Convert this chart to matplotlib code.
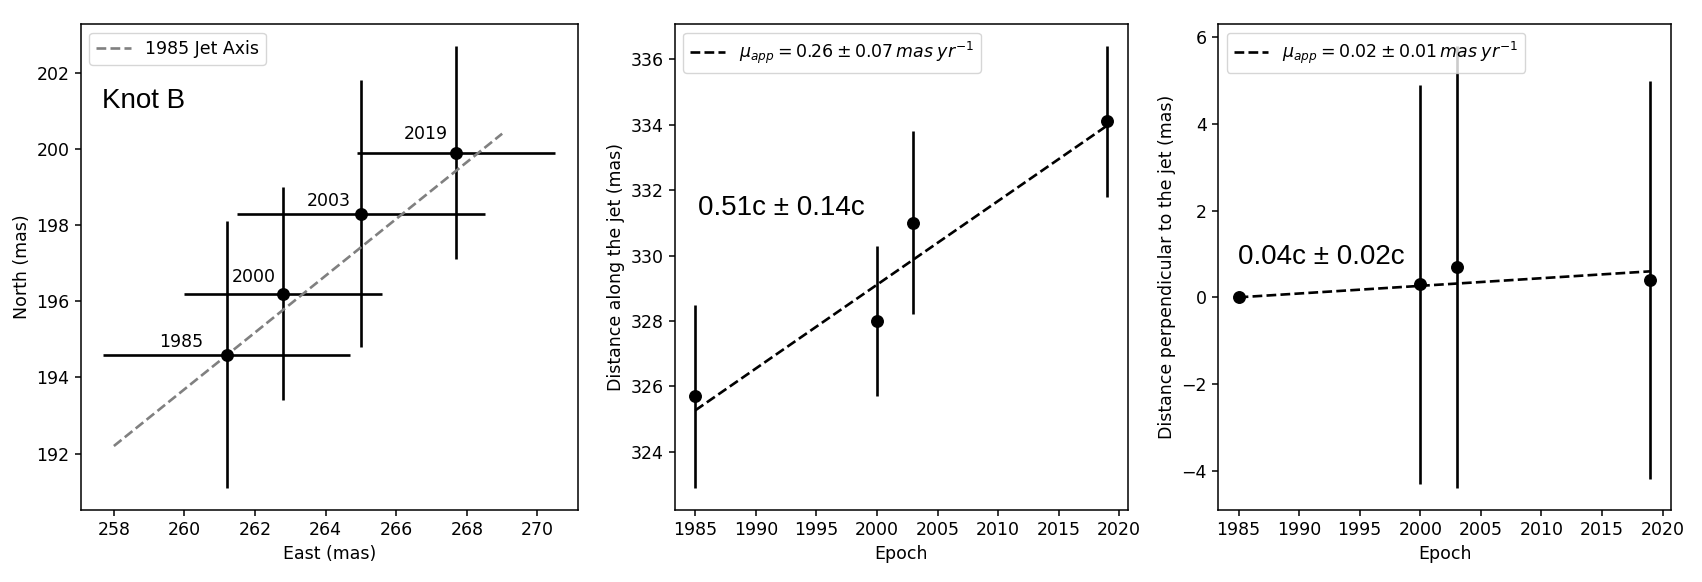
import matplotlib
matplotlib.use("Agg")
import matplotlib.pyplot as plt
import numpy as np

# ---------------- data ----------------
epochs = [1985, 2000, 2003, 2019]
epoch_labels = ["1985", "2000", "2003", "2019"]

# Panel 1: sky positions
east = [261.2, 262.8, 265.0, 267.7]
north = [194.6, 196.2, 198.3, 199.9]
east_err = [3.5, 2.8, 3.5, 2.8]
north_err = [3.5, 2.8, 3.5, 2.8]
jet_axis_east = [258.0, 269.0]
jet_axis_north = [192.2, 200.4]
label_east = [259.9, 261.95, 264.1, 266.85]
label_north = [194.8, 196.5, 198.5, 200.25]

# Panel 2: distance along the jet
along = [325.7, 328.0, 331.0, 334.1]
along_err = [2.8, 2.3, 2.8, 2.3]
along_fit_epochs = [1985, 2019]
along_fit = [325.27, 333.97]
along_legend = r"$\mu_{app} = 0.26 \pm 0.07\,mas\;yr^{-1}$"
along_speed = "0.51c ± 0.14c"

# Panel 3: distance perpendicular to the jet
perp = [0.0, 0.3, 0.7, 0.4]
perp_err = [0.0, 4.6, 5.1, 4.6]
perp_fit_epochs = [1985, 2019]
perp_fit = [0.0, 0.6]
perp_legend = r"$\mu_{app} = 0.02 \pm 0.01\,mas\;yr^{-1}$"
perp_speed = "0.04c ± 0.02c"

# ---------------- style ----------------
FS = 12.5
plt.rcParams.update({
    "font.size": FS,
    "axes.labelsize": FS,
    "xtick.labelsize": FS,
    "ytick.labelsize": FS,
    "legend.fontsize": FS,
    "axes.linewidth": 1.1,
    "xtick.major.width": 1.1,
    "ytick.major.width": 1.1,
    "xtick.major.size": 4.5,
    "ytick.major.size": 4.5,
})
LW = 1.9
MS = 8.3
BIG = dict(fontsize=20, family="Liberation Sans")

W, H = 1702, 582
fig = plt.figure(figsize=(W / 100, H / 100), dpi=100)
bottom = 1 - 510 / H
height = (510 - 24) / H
ax1 = fig.add_axes([80.7 / W, bottom, (577.7 - 80.7) / W, height])
ax2 = fig.add_axes([674.7 / W, bottom, (1127.7 - 674.7) / W, height])
ax3 = fig.add_axes([1218 / W, bottom, (1671 - 1218) / W, height])

# Panel 1
ax1.errorbar(east, north, xerr=east_err, yerr=north_err, fmt="o", color="black",
             ms=MS, elinewidth=LW, capsize=0)
ax1.plot(jet_axis_east, jet_axis_north, "--", color="gray", lw=LW, label="1985 Jet Axis")
for lx, ly, t in zip(label_east, label_north, epoch_labels):
    ax1.text(lx, ly, t, ha="center", va="baseline", fontsize=FS)
ax1.text(0.042, 0.827, "Knot B", transform=ax1.transAxes, **BIG)
ax1.set_xlabel("East (mas)")
ax1.set_ylabel("North (mas)")
ax1.set_xticks(np.arange(258, 271, 2))
ax1.set_yticks(np.arange(192, 203, 2))
ax1.legend(loc="upper left")

# Panel 2
ax2.errorbar(epochs, along, yerr=along_err, fmt="o", color="black",
             ms=MS, elinewidth=LW, capsize=0)
ax2.plot(along_fit_epochs, along_fit, "--", color="black", lw=LW, label=along_legend)
ax2.text(0.051, 0.607, along_speed, transform=ax2.transAxes, **BIG)
ax2.set_xlabel("Epoch")
ax2.set_ylabel("Distance along the jet (mas)")
ax2.set_xticks(np.arange(1985, 2021, 5))
ax2.set_yticks(np.arange(324, 337, 2))
ax2.legend(loc="upper left")

# Panel 3
ax3.errorbar(epochs, perp, yerr=perp_err, fmt="o", color="black",
             ms=MS, elinewidth=LW, capsize=0)
ax3.plot(perp_fit_epochs, perp_fit, "--", color="black", lw=LW, label=perp_legend)
ax3.text(0.044, 0.506, perp_speed, transform=ax3.transAxes, **BIG)
ax3.set_xlabel("Epoch")
ax3.set_ylabel("Distance perpendicular to the jet (mas)")
ax3.set_xticks(np.arange(1985, 2021, 5))
ax3.set_yticks(np.arange(-4, 7, 2))
ax3.legend(loc="upper left")

fig.savefig("out.png", dpi=100)
